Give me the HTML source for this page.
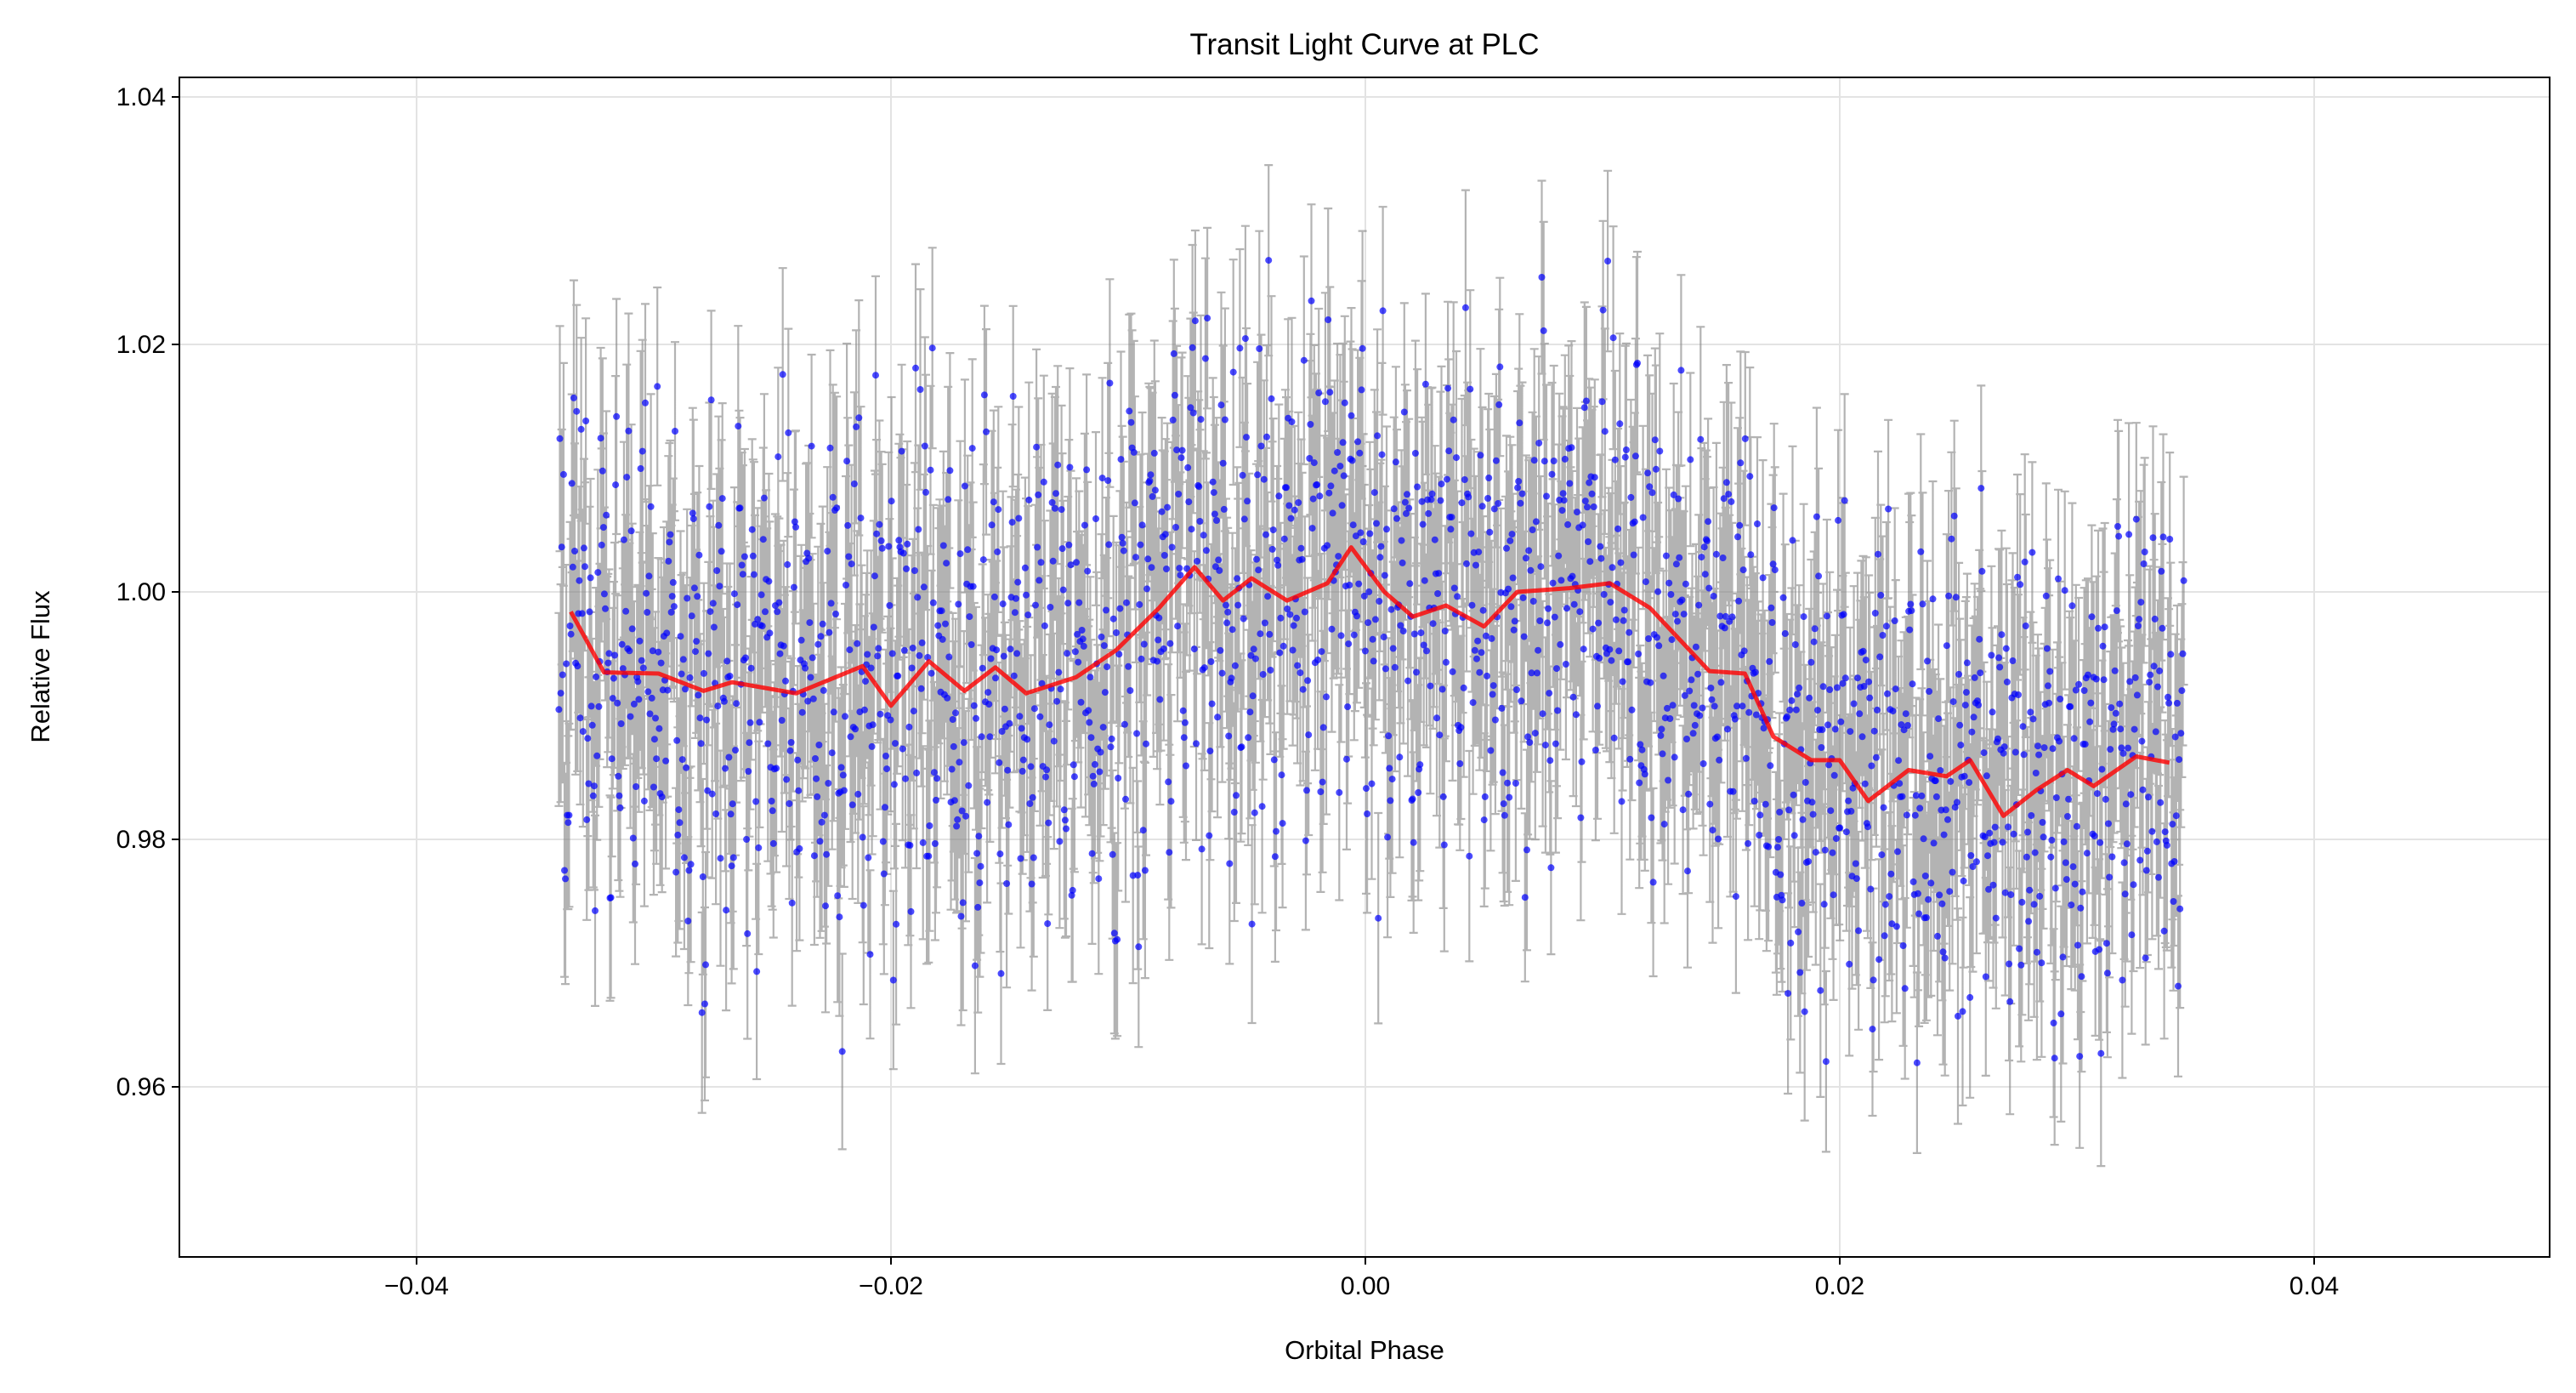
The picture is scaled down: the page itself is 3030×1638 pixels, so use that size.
<!DOCTYPE html>
<html><head><meta charset="utf-8"><style>
html,body{margin:0;padding:0;background:#fff;}
svg{display:block;font-family:"Liberation Sans","DejaVu Sans",sans-serif;}
</style></head><body>
<svg id="chart" width="3030" height="1638" viewBox="0 0 3030 1638" xmlns="http://www.w3.org/2000/svg">
<rect width="3030" height="1638" fill="#fff"/>
<g id="grid"></g>
<g id="errs"></g>
<g id="pts"></g>
<g id="trend"></g>
<rect x="211" y="91" width="2788" height="1387" fill="none" stroke="#000" stroke-width="2"/>
<g id="axes"></g>
<text x="1605" y="64" text-anchor="middle" font-size="35">Transit Light Curve at PLC</text>
<text x="1605" y="1598" text-anchor="middle" font-size="31">Orbital Phase</text>
<text x="58" y="784" text-anchor="middle" font-size="31" transform="rotate(-90 58 784)">Relative Flux</text>
</svg>
<script>
const xTicks=[-0.04,-0.02,0.00,0.02,0.04];
const xTickLabels=["\u22120.04","\u22120.02","0.00","0.02","0.04"];
const yTicks=[0.96,0.98,1.00,1.02,1.04];
const yTickLabels=["0.96","0.98","1.00","1.02","1.04"];
const trendX=[-0.0335,-0.0321,-0.0298,-0.0279,-0.0267,-0.024,-0.0212,-0.020,-0.0184,-0.0169,-0.0156,-0.0143,-0.0122,-0.0105,-0.0087,-0.0072,-0.006,-0.0048,-0.0033,-0.0016,-0.0006,0.0008,0.002,0.0034,0.005,0.0064,0.0086,0.0103,0.012,0.0145,0.016,0.0172,0.0188,0.02,0.0212,0.0229,0.0245,0.0255,0.0269,0.0283,0.0296,0.0307,0.0325,0.0339];
const trendY=[0.9984,0.9935,0.9934,0.992,0.9927,0.9918,0.994,0.9908,0.9944,0.992,0.9939,0.9918,0.9931,0.9953,0.9987,1.002,0.9993,1.0011,0.9993,1.0007,1.0036,1.000,0.998,0.9989,0.9972,1.000,1.0003,1.0007,0.9987,0.9936,0.9934,0.9883,0.9864,0.9864,0.9831,0.9856,0.9851,0.9864,0.9819,0.984,0.9856,0.9843,0.9867,0.9862];
const noise=[0.3,-1.2,1.8,-0.4,0.9,-2.1,0.1,1.3,-0.8,-1.5,2.2,0.6,-0.2,-0.9,1.1,-1.8,0.4,2.6,-0.6,0.0,-1.1,1.6,-2.4,0.7,0.2,-0.3,1.4,-1.0,0.8,-1.7,2.0,-0.5,0.5,-2.8,1.2,-0.1,0.9,-1.3,0.3,1.7,-0.7,-2.0,0.6,1.0,-0.4,2.4,-1.6,0.2,-0.9,1.5,-0.2,-1.4,0.8,1.9,-2.2,0.1,-0.6,1.3,-1.1,0.4,2.1,-0.8,-0.3,1.0,-1.9,0.7,-0.1,1.6,-2.5,0.5,0.9,-1.2,0.0,1.2,-0.5,-1.7,2.3,0.3,-1.0,0.6,-0.4,1.8,-2.3,0.2,1.1,-0.7,-1.5,0.8,2.7,-0.2,-1.3,0.4,1.4,-0.9,-0.1,2.0,-1.8,0.6,-0.6,1.7,-2.6,0.1,0.9,-1.1,0.3,1.3,-0.3,-2.1,1.9,0.5,-0.8,-1.4,0.7,2.2,-0.4,-1.6,1.0,0.2,-0.7,1.5,-2.0,0.8,-0.2,1.2,-1.0,0.4,-2.7,1.6,0.0,-0.5,2.5,-1.2,0.6,-0.9,1.1,-0.3,-1.9,0.3,1.8,-0.6,-1.4,0.9,2.1,-2.2,0.5,-0.1,1.4,-1.6];
const errHalf=[0.0078,0.0085,0.0072,0.0091,0.0080,0.0068,0.0088,0.0076,0.0083,0.0095,0.0070,0.0081,0.0087,0.0074,0.0079,0.0090,0.0084,0.0073,0.0086,0.0077];
const N=1750, xStart=-0.0340, xEnd=0.0345, sigma=0.0085;

const NS="http://www.w3.org/2000/svg";
const L=211,R=2999,T=91,B=1478;
const xScale=v=>1606+(v/0.01)*279;
const yScale=v=>696-((v-1.0)/0.02)*291;
function mk(tag,attrs,parent){const e=document.createElementNS(NS,tag);for(const k in attrs)e.setAttribute(k,attrs[k]);parent.appendChild(e);return e;}
function trendAt(x){
  if(x<=trendX[0])return trendY[0];
  for(let i=1;i<trendX.length;i++){if(x<=trendX[i]){const t=(x-trendX[i-1])/(trendX[i]-trendX[i-1]);return trendY[i-1]+t*(trendY[i]-trendY[i-1]);}}
  return trendY[trendY.length-1];
}
const grid=document.getElementById('grid'),axes=document.getElementById('axes');
xTicks.forEach((v,i)=>{
  const x=xScale(v);
  const g=mk('line',{x1:x,x2:x,y1:T,y2:B,stroke:'#e3e3e3','stroke-width':2},grid);
  
  
  const t=mk('line',{x1:x,x2:x,y1:B,y2:B+9,stroke:'#000','stroke-width':2},axes);
  
  
  const lb=mk('text',{x:x,y:B+44,'text-anchor':'middle','font-size':30},axes);
  lb.textContent=xTickLabels[i];
  
  
});
yTicks.forEach((v,i)=>{
  const y=yScale(v);
  const g=mk('line',{x1:L,x2:R,y1:y,y2:y,stroke:'#e3e3e3','stroke-width':2},grid);
  
  
  const t=mk('line',{x1:L-9,x2:L,y1:y,y2:y,stroke:'#000','stroke-width':2},axes);
  
  
  const lb=mk('text',{x:L-16,y:y+10,'text-anchor':'end','font-size':30},axes);
  lb.textContent=yTickLabels[i];
  
  
});
const errs=document.getElementById('errs'),pts=document.getElementById('pts');
let ed='';
for(let i=0;i<N;i++){
  const xv=xStart+(xEnd-xStart)*i/(N-1);
  const n1=noise[(i*53)%noise.length], n2=noise[(i*11+5)%(noise.length-1)];
  const yv=trendAt(xv)+(n1*0.75+n2*0.55)*sigma;
  const e=errHalf[(i*3+(i>>4))%errHalf.length];
  const x=xScale(xv),y1=yScale(yv+e),y2=yScale(yv-e);
  ed+=`M${x.toFixed(1)} ${y1.toFixed(1)}V${y2.toFixed(1)}M${(x-5).toFixed(1)} ${y1.toFixed(1)}h10M${(x-5).toFixed(1)} ${y2.toFixed(1)}h10`;
  const c=mk('circle',{cx:x.toFixed(1),cy:yScale(yv).toFixed(1),r:4,fill:'#0000ff','fill-opacity':0.7},pts);
  
  
}
const ep=mk('path',{d:ed,stroke:'#808080','stroke-opacity':0.6,'stroke-width':2.2,fill:'none'},errs);


let td='';
trendX.forEach((v,i)=>{td+=(i?'L':'M')+xScale(v).toFixed(1)+' '+yScale(trendY[i]).toFixed(1);});
const tp=mk('path',{d:td,stroke:'#ff0000','stroke-opacity':0.8,'stroke-width':5,fill:'none','stroke-linejoin':'round'},document.getElementById('trend'));


</script>
</body></html>
